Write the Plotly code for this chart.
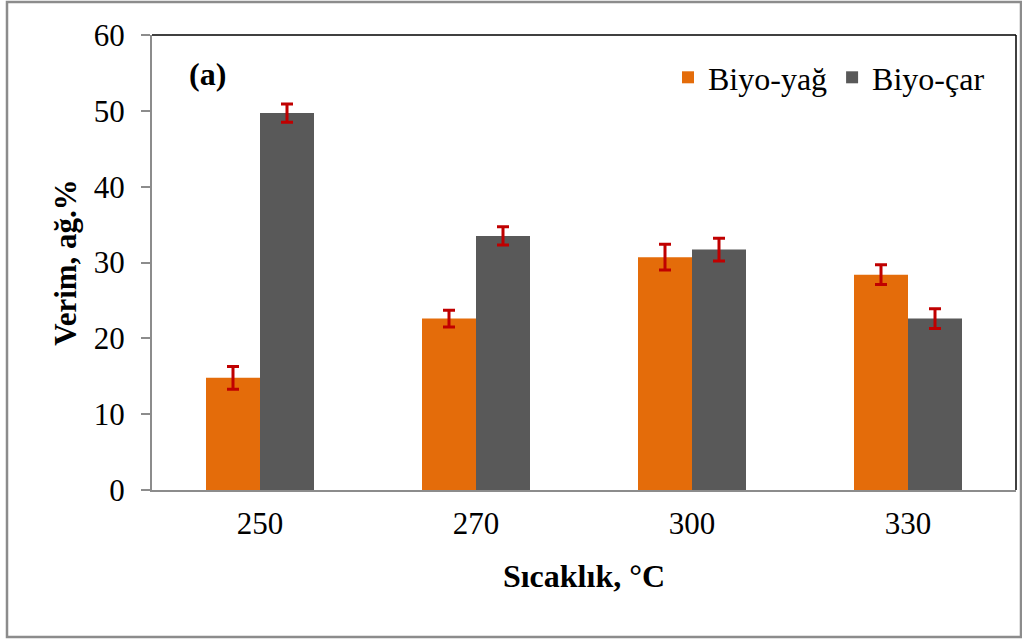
import plotly.graph_objects as go

categories = ["250", "270", "300", "330"]
bio_oil = [14.8, 22.6, 30.7, 28.4]
bio_oil_err = [1.5, 1.1, 1.7, 1.3]
bio_char = [49.7, 33.5, 31.7, 22.6]
bio_char_err = [1.2, 1.2, 1.5, 1.3]

W, H = 1022, 641
L, R, T, B = 152, 6, 35, 151
pw, ph = W - L - R, H - T - B

FONT = "Liberation Serif"
err_style = dict(type="data", color="#C00000", thickness=3, width=6, visible=True)

fig = go.Figure()
fig.add_trace(go.Bar(x=categories, y=bio_oil, name="Biyo-yağ", marker_color="#E46C0A",
                     marker_line_width=0, error_y=dict(array=bio_oil_err, **err_style)))
fig.add_trace(go.Bar(x=categories, y=bio_char, name="Biyo-çar", marker_color="#595959",
                     marker_line_width=0, error_y=dict(array=bio_char_err, **err_style)))

def px_x(p):
    return (p - L) / pw

def px_y(p):
    return (H - B - p) / ph

shapes = [
    dict(type="rect", xref="paper", yref="paper", x0=px_x(7), x1=px_x(1021), y0=px_y(637), y1=px_y(2),
         line=dict(color="#8c8c8c", width=2.5), fillcolor="rgba(0,0,0,0)", layer="below"),
    dict(type="line", xref="paper", yref="paper", x0=0, x1=1, y0=1, y1=1,
         line=dict(color="black", width=1.5)),
    dict(type="line", xref="paper", yref="paper", x0=1, x1=1, y0=0, y1=1,
         line=dict(color="black", width=1.5)),
]

fig.update_layout(
    width=W, height=H,
    margin=dict(l=L, r=R, t=T, b=B, pad=0),
    paper_bgcolor="white", plot_bgcolor="white",
    font=dict(family=FONT, size=31, color="black"),
    barmode="group", bargap=0.5, bargroupgap=0,
    showlegend=True,
    legend=dict(orientation="h", x=px_x(668), y=px_y(50), xanchor="left", yanchor="top",
                font=dict(family=FONT, size=32), bgcolor="rgba(0,0,0,0)",
                itemwidth=30, tracegroupgap=0),
    shapes=shapes,
    annotations=[dict(text="<b>(a)</b>", xref="paper", yref="paper", x=px_x(187), y=px_y(74),
                      xanchor="left", yanchor="middle", showarrow=False,
                      font=dict(family=FONT, size=32))],
)

fig.update_xaxes(
    showline=True, linecolor="#8c8c8c", linewidth=2, ticks="", showgrid=False,
    tickfont=dict(family=FONT, size=31), ticklabelstandoff=5,
    title=dict(text="<b>Sıcaklık, °C</b>", font=dict(family=FONT, size=32), standoff=24),
)
fig.update_yaxes(
    range=[0, 60], dtick=10, showline=True, linecolor="#8c8c8c", linewidth=2,
    ticks="outside", ticklen=9, tickcolor="#8c8c8c", tickwidth=2, showgrid=False, zeroline=False,
    tickfont=dict(family=FONT, size=31), ticklabelstandoff=10,
    title=dict(text="<b>Verim, ağ.%</b>", font=dict(family=FONT, size=31), standoff=8),
)

fig.write_html("out.html")
